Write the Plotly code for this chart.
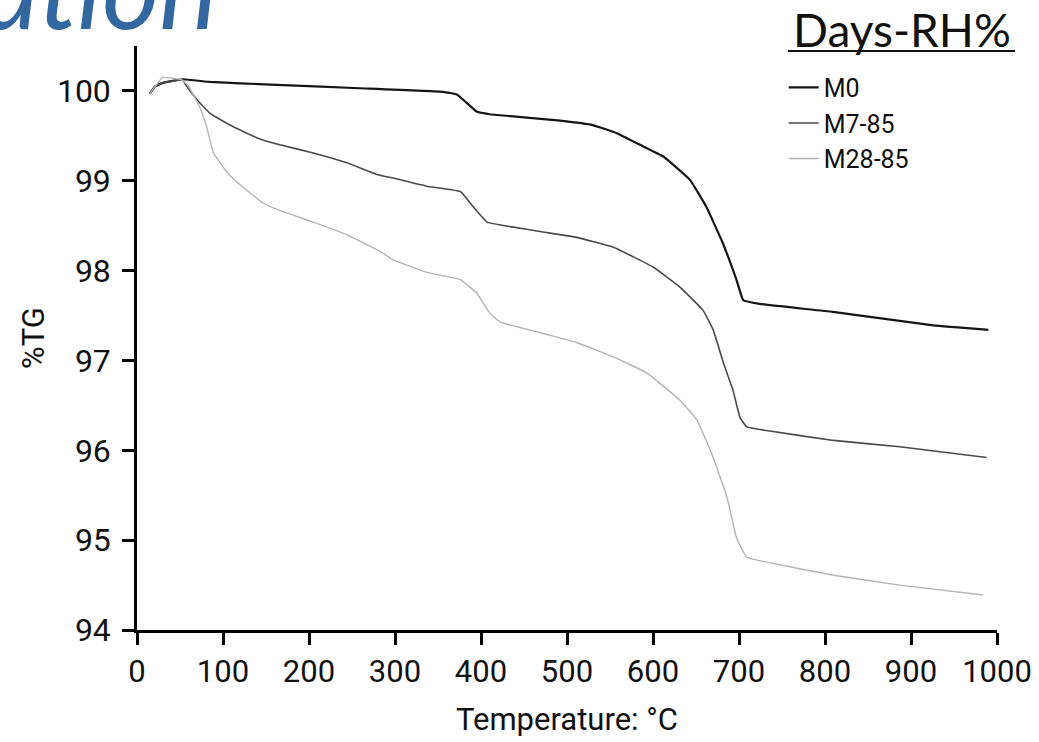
import plotly.graph_objects as go

# Thermogravimetric curves: temperature (°C) vs residual mass (%TG)
m0_temp = [15, 21, 30, 53, 85, 155, 259, 356, 372, 383, 395, 410, 434, 492, 530, 558,
           585, 612, 643, 662, 681, 697, 705, 724, 809, 926, 990]
m0_tg = [99.97, 100.05, 100.09, 100.13, 100.10, 100.07, 100.03, 99.99, 99.96, 99.87,
         99.77, 99.74, 99.72, 99.67, 99.62, 99.53, 99.40, 99.27, 99.01, 98.71, 98.31,
         97.90, 97.67, 97.63, 97.54, 97.39, 97.34]

m7_temp = [15, 21, 30, 53, 58, 70, 85, 108, 139, 166, 205, 244, 279, 298, 337, 376, 391,
           407, 434, 472, 511, 554, 600, 631, 658, 670, 682, 693, 701, 709, 732, 810, 887, 988]
m7_tg = [99.97, 100.05, 100.09, 100.12, 100.05, 99.90, 99.75, 99.62, 99.48, 99.40, 99.31,
         99.20, 99.07, 99.03, 98.94, 98.88, 98.71, 98.54, 98.49, 98.43, 98.37, 98.26,
         98.04, 97.82, 97.56, 97.34, 96.97, 96.67, 96.37, 96.26, 96.22, 96.11, 96.04, 95.92]

m28_temp = [15, 21, 30, 53, 60, 73, 81, 89, 105, 123, 147, 166, 205, 244, 283, 298, 337,
            376, 395, 410, 422, 472, 511, 554, 593, 631, 651, 670, 686, 697, 709, 740, 810,
            887, 984]
m28_tg = [99.97, 100.05, 100.15, 100.12, 100.05, 99.82, 99.60, 99.31, 99.09, 98.93, 98.75,
          98.67, 98.54, 98.40, 98.21, 98.12, 97.98, 97.90, 97.75, 97.53, 97.43, 97.30, 97.20,
          97.04, 96.86, 96.56, 96.34, 95.92, 95.48, 95.03, 94.81, 94.74, 94.61, 94.50, 94.39]

x_ticks = [0, 100, 200, 300, 400, 500, 600, 700, 800, 900, 1000]
y_ticks = [94, 95, 96, 97, 98, 99, 100]

BASE_FONT = "Roboto, sans-serif"

fig = go.Figure()
fig.add_trace(go.Scatter(x=m0_temp, y=m0_tg, name="M0", mode="lines",
                         line=dict(color="#151515", width=2.2, shape="spline", smoothing=0.3)))
fig.add_trace(go.Scatter(x=m7_temp, y=m7_tg, name="M7-85", mode="lines",
                         line=dict(color="#4a4a4a", width=1.6, shape="spline", smoothing=0.3)))
fig.add_trace(go.Scatter(x=m28_temp, y=m28_tg, name="M28-85", mode="lines",
                         line=dict(color="#b4b4b4", width=1.4, shape="spline", smoothing=0.3)))

fig.update_layout(
    width=1039, height=742,
    margin=dict(l=137, r=42, t=46, b=112),
    paper_bgcolor="white", plot_bgcolor="white",
    font=dict(family=BASE_FONT, color="#111"),
    legend=dict(x=0.752, y=0.968, xanchor="left", yanchor="top",
                bgcolor="rgba(0,0,0,0)", font=dict(size=25, family=BASE_FONT, color="#111"),
                itemwidth=30, tracegroupgap=0),
    xaxis=dict(range=[0, 1000], tickvals=x_ticks, ticks="outside", ticklen=12, tickwidth=2.5,
               tickcolor="black", showline=True, linecolor="black", linewidth=2.5,
               showgrid=False, zeroline=False, tickfont=dict(size=31), automargin=False,
               title=dict(text="Temperature: °C", font=dict(size=31), standoff=20)),
    yaxis=dict(range=[94, 100.5], tickvals=y_ticks, ticks="outside", ticklen=12, tickwidth=2.5,
               tickcolor="black", showline=True, linecolor="black", linewidth=2.5,
               showgrid=False, zeroline=False, tickfont=dict(size=32), ticklabelstandoff=5,
               automargin=False,
               title=dict(text="%TG", font=dict(size=31), standoff=4)),
)

# Legend heading with underline
fig.add_annotation(text="Days-RH%", xref="paper", yref="paper", x=(902 - 137) / 860, y=1 - (30 - 46) / 584,
                   xanchor="center", yanchor="middle", showarrow=False,
                   font=dict(size=46, family="Lato, sans-serif", color="#111"))
fig.add_shape(type="line", xref="paper", yref="paper", x0=(788 - 137) / 860, x1=(1015 - 137) / 860,
              y0=1 - (51 - 46) / 584, y1=1 - (51 - 46) / 584, line=dict(color="#111", width=2))

# Slide heading running off the top edge
fig.add_annotation(text="<i>ation</i>", xref="paper", yref="paper", x=(220 - 137) / 860, y=0.986,
                   xanchor="right", yanchor="bottom", showarrow=False,
                   font=dict(size=110, family="Lato, sans-serif", color="#33679f"))

fig.write_html("out.html")
